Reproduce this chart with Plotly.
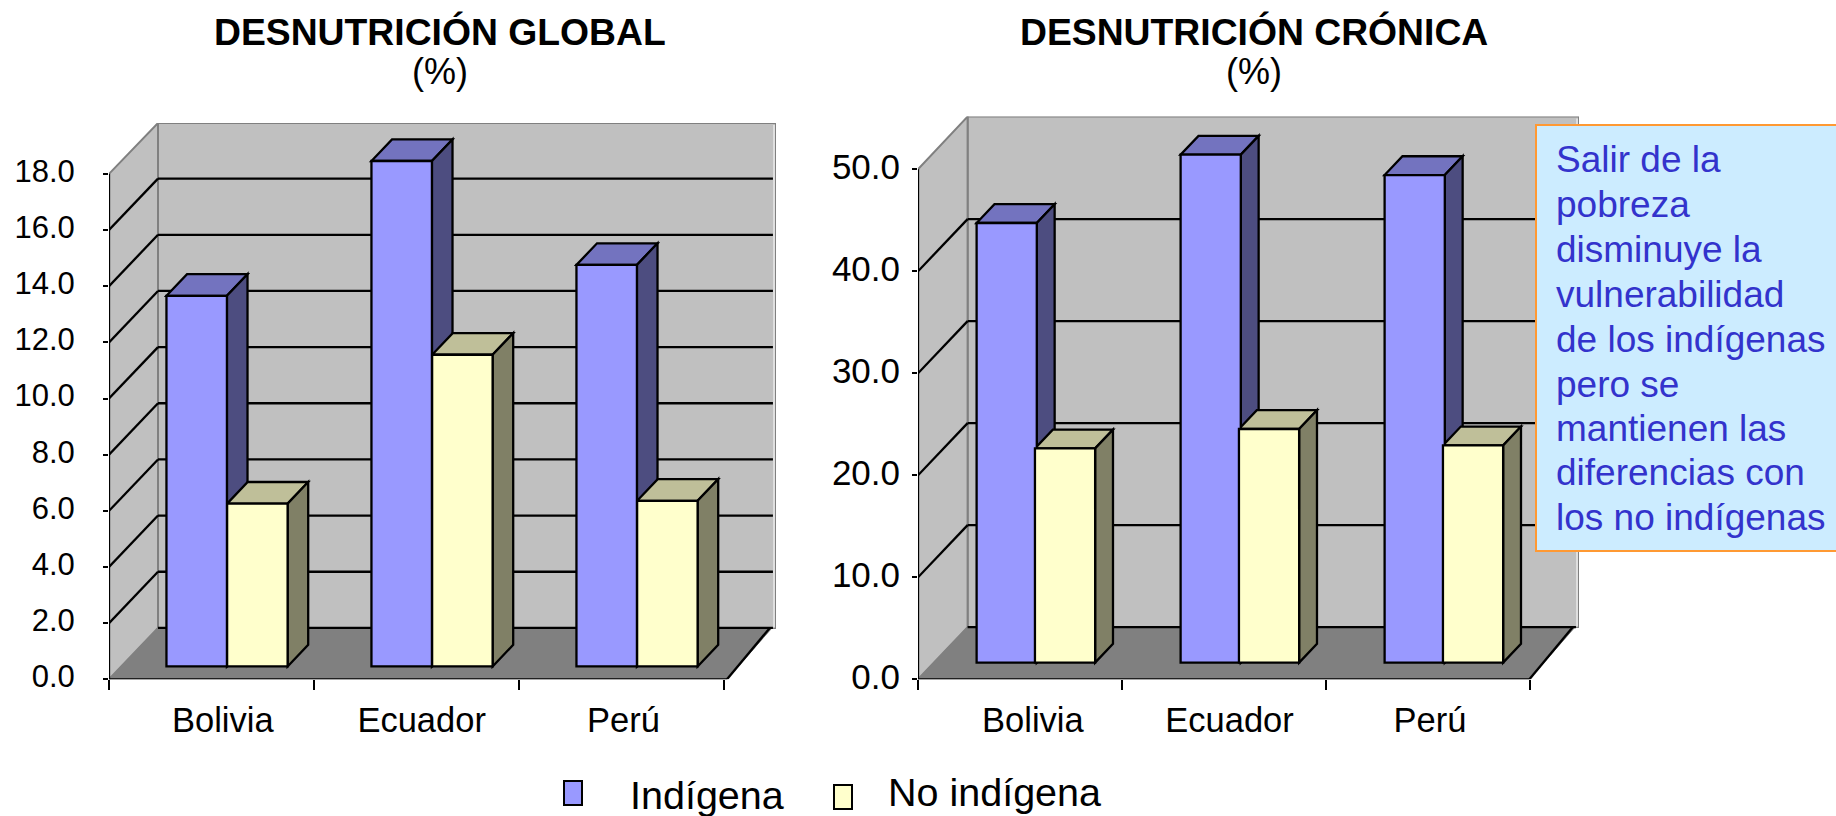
import plotly.graph_objects as go

categories = ["Bolivia", "Ecuador", "Perú"]
global_indigena = [13.2, 18.0, 14.3]
global_no_indigena = [5.8, 11.1, 5.9]
cronica_indigena = [43.1, 49.8, 47.8]
cronica_no_indigena = [21.0, 22.9, 21.3]
global_ticks = [0, 2, 4, 6, 8, 10, 12, 14, 16, 18]
cronica_ticks = [0, 10, 20, 30, 40, 50]
titles = ["DESNUTRICIÓN GLOBAL", "DESNUTRICIÓN CRÓNICA"]
note_lines = ["Salir de la", "pobreza", "disminuye la", "vulnerabilidad", "de los indígenas",
              "pero se", "mantienen las", "diferencias con", "los no indígenas"]
legend_names = ["Indígena", "No indígena"]

W, H = 1836, 816
FONT = "Liberation Sans, Arial, sans-serif"
BLUE = ("#9999FF", "#7373BF", "#4D4D80")
YELLOW = ("#FFFFCC", "#BFBF99", "#808066")


def px(v):
    return v / W


def py(v):
    return 1 - v / H


fig = go.Figure()
shapes = []
annotations = []


def poly(xa, ya, pts, fill, line="black", width=2.3):
    d = "M " + " L ".join(f"{x},{y}" for x, y in pts) + " Z"
    shapes.append(dict(type="path", xref=xa, yref=ya, path=d, fillcolor=fill, layer="below",
                       line=dict(color=line, width=width)))


def seg(xa, ya, x0, y0, x1, y1, color="black", width=2.3):
    shapes.append(dict(type="line", xref=xa, yref=ya, x0=x0, y0=y0, x1=x1, y1=y1, layer="below",
                       line=dict(color=color, width=width)))


def panel(idx, vals_a, vals_b, ticks, left, right, top, catw, unit, back_dx, back_dy,
          z0, zd, tick_size, standoff, label_pos, shift, off_a, off_b):
    n = "" if idx == 1 else str(idx)
    xa, ya = "x" + n, "y" + n
    bottom = 679.3
    xmax = (right - left) / catw
    ymax = (bottom - top) / unit
    DX, DY = back_dx / catw, back_dy / unit
    vmax = ticks[-1]
    ncat = len(categories)
    fw = xmax - DX

    # walls and floor
    poly(xa, ya, [(DX, DY), (xmax, DY), (xmax, ymax), (DX, ymax)], "#C0C0C0", "#808080", 2)
    seg(xa, ya, xmax - 2 / catw, DY, xmax - 2 / catw, ymax - 2 / unit, "white", 1)
    poly(xa, ya, [(0, 0), (DX, DY), (DX, ymax), (0, vmax)], "#C0C0C0", "#808080", 2)
    poly(xa, ya, [(0, 0), (fw, 0), (xmax - 4 / catw, DY), (DX, DY)], "#808080", "#808080", 1)
    for t in ticks[1:-1]:
        seg(xa, ya, 0, t, DX, t + DY)
        seg(xa, ya, DX, t + DY, xmax - 0.015, t + DY)
    seg(xa, ya, DX, DY, xmax - 0.015, DY)
    seg(xa, ya, 0, 0, fw, 0)
    seg(xa, ya, fw, 0, xmax - 0.03, DY)
    seg(xa, ya, 0, 0, 0, vmax)

    width = 0.295
    base = z0 * DY
    bx = zd * DX
    by = zd * DY
    for series, name, cols, off in ((vals_a, legend_names[0], BLUE, off_a),
                                    (vals_b, legend_names[1], YELLOW, off_b)):
        xs = [i + 0.5 + z0 * DX + off + shift for i in range(ncat)]
        for xc, v in zip(xs, series):
            x0, x1 = xc - width / 2, xc + width / 2
            y1 = base + v
            poly(xa, ya, [(x0, y1), (x1, y1), (x1 + bx, y1 + by), (x0 + bx, y1 + by)], cols[1])
            poly(xa, ya, [(x1, base), (x1 + bx, base + by), (x1 + bx, y1 + by), (x1, y1)], cols[2])
        fig.add_trace(go.Bar(x=xs, y=series, base=base, width=width, name=name, showlegend=False,
                             marker=dict(color=cols[0], line=dict(color="black", width=2.3)),
                             xaxis=xa, yaxis=ya))

    ax = "xaxis" + n
    ay = "yaxis" + n
    fig.update_layout({
        ax: dict(domain=[px(left), px(right)], range=[0, xmax], anchor=ya, showgrid=False, zeroline=False,
                 showline=False, tickvals=label_pos, ticktext=categories, ticks="outside", ticklen=0,
                 tickfont=dict(size=34.5, color="black", family=FONT), ticklabelstandoff=10,
                 automargin=False,
                 minor=dict(tickvals=list(range(ncat + 1)), ticks="outside", ticklen=10, tickwidth=2,
                            tickcolor="black", showgrid=False)),
        ay: dict(domain=[py(bottom), py(top)], range=[0, ymax], anchor=xa, showgrid=False, zeroline=False,
                 showline=False, tickvals=ticks, ticktext=[f"{t:.1f}" for t in ticks], ticks="outside",
                 ticklen=5, tickwidth=2, tickcolor="black", automargin=False, ticklabelshift=-3,
                 tickfont=dict(size=tick_size, color="black", family=FONT), ticklabelstandoff=standoff),
    })


panel(1, global_indigena, global_no_indigena, global_ticks, 109, 776, 123, 205, 28.08, 49, 51.4,
      0.25, 0.42, 31, 22, [0.555, 1.525, 2.51], 0.011, -0.143, 0.153)
panel(2, cronica_indigena, cronica_no_indigena, cronica_ticks, 918, 1579, 116.6, 204, 10.2, 49.6, 52.2,
      0.32, 0.36, 35, 5, [0.563, 1.527, 2.51], 0.0, -0.143, 0.143)


def text(x, y, s, size, color="black", bold=False, anchor="center"):
    annotations.append(dict(xref="paper", yref="paper", x=px(x), y=py(y), text=f"<b>{s}</b>" if bold else s,
                            showarrow=False, xanchor=anchor, yanchor="middle", align="left",
                            borderpad=0, font=dict(family=FONT, size=size, color=color)))


text(440, 32, titles[0], 37.3, bold=True)
text(440, 71, "(%)", 36)
text(1253.5, 32, titles[1], 37.3, bold=True)
text(1253.5, 71, "(%)", 36)

# note box
shapes.append(dict(type="rect", xref="paper", yref="paper", x0=px(1536), x1=px(1840), y0=py(125), y1=py(551),
                   fillcolor="#CCECFF", line=dict(color="#FF9933", width=2), layer="above"))
note_y = [160, 204, 249, 294, 339, 384, 428, 472, 517]
for yy, s in zip(note_y, note_lines):
    text(1555, yy, s, 37, color="#3333CC", anchor="left")

# legend
shapes.append(dict(type="rect", xref="paper", yref="paper", x0=px(564), x1=px(582), y0=py(805), y1=py(781),
                   fillcolor=BLUE[0], line=dict(color="black", width=2), layer="above"))
shapes.append(dict(type="rect", xref="paper", yref="paper", x0=px(834), x1=px(852), y0=py(809), y1=py(785),
                   fillcolor=YELLOW[0], line=dict(color="black", width=2), layer="above"))
text(629, 795, legend_names[0], 39.5, anchor="left")
text(887, 792, legend_names[1], 39.5, anchor="left")

fig.update_layout(width=W, height=H, margin=dict(l=0, r=0, t=0, b=0, pad=0, autoexpand=False), autosize=False,
                  paper_bgcolor="white", plot_bgcolor="rgba(0,0,0,0)", showlegend=False,
                  shapes=shapes, annotations=annotations, barmode="overlay",
                  font=dict(family=FONT, color="black"))
fig.write_html("out.html", default_width="1836px", default_height="816px",
               post_script="document.body.style.margin='0';document.documentElement.style.margin='0';",
               config=dict(displayModeBar=False))
